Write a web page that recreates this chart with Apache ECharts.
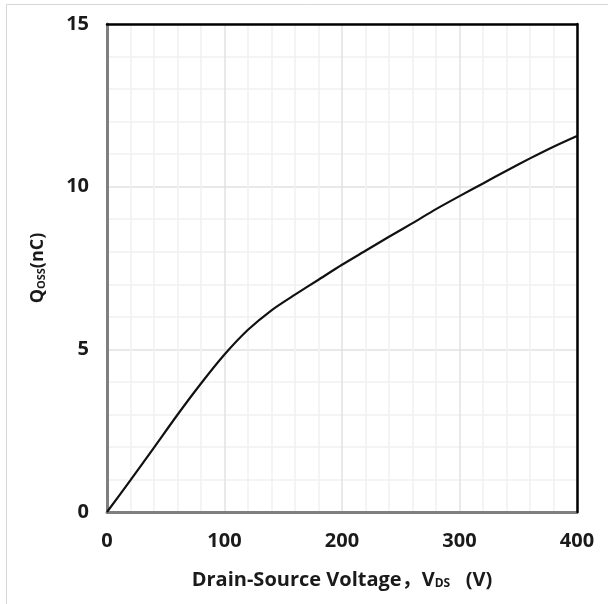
<!DOCTYPE html>
<html>
<head>
<meta charset="utf-8">
<script src="https://cdn.jsdelivr.net/npm/echarts@6/dist/echarts.min.js"></script>
<style>
  html, body { margin: 0; padding: 0; background: #fff; }
  #chart { width: 608px; height: 604px; }
</style>
</head>
<body>
<div id="chart"></div>
<script>
// Qoss vs Vds
const vds = [0, 20, 40, 60, 80, 100, 120, 140, 160, 180, 200, 220, 240, 260, 280, 300, 320, 340, 360, 380, 400];
const qoss = [0, 0.98, 1.98, 2.99, 3.95, 4.84, 5.6, 6.2, 6.68, 7.14, 7.6, 8.03, 8.46, 8.88, 9.31, 9.71, 10.1, 10.49, 10.87, 11.23, 11.56];

const xTicks = [0, 100, 200, 300, 400];
const yTicks = [0, 5, 10, 15];

const font = '"Open Sans", "Noto Sans CJK SC", sans-serif';
const labelColor = '#1a1a1a';

const chart = echarts.init(document.getElementById('chart'), null, { renderer: 'canvas' });

const frameAxis = {
  show: true,
  axisLine: { show: true, onZero: false, lineStyle: { color: '#000', width: 2.5 } },
  axisTick: { show: false },
  axisLabel: { show: false },
  splitLine: { show: false }
};

chart.setOption({
  animation: false,
  graphic: [
    { type: 'line', shape: { x1: 6.5, y1: 4.5, x2: 608, y2: 4.5 }, style: { stroke: '#d6d6d6', lineWidth: 1 } },
    { type: 'line', shape: { x1: 6.5, y1: 4.5, x2: 6.5, y2: 604 }, style: { stroke: '#d6d6d6', lineWidth: 1 } }
  ],
  grid: { left: 107, right: 31, top: 24, bottom: 92 },
  xAxis: [{
    type: 'value',
    min: xTicks[0], max: xTicks[xTicks.length - 1], interval: 100,
    name: '{t|Drain-Source Voltage，V}{s|DS}{t|   (V)}',
    nameLocation: 'middle', nameGap: 58,
    nameTextStyle: {
      rich: {
        t: { fontFamily: font, fontWeight: 'bold', fontSize: 20, color: labelColor },
        s: { fontFamily: font, fontWeight: 'bold', fontSize: 12, color: labelColor, padding: [8, 0, 0, 0] }
      }
    },
    axisLine: { show: true, onZero: false, lineStyle: { color: '#7f7f7f', width: 3 } },
    axisTick: { show: false },
    axisLabel: { fontFamily: font, fontWeight: 'bold', fontSize: 20, color: labelColor, margin: 19 },
    splitLine: { show: true, lineStyle: { color: '#e2e2e2', width: 1.5 } },
    minorTick: { show: false, splitNumber: 5 },
    minorSplitLine: { show: true, lineStyle: { color: '#f1f1f1', width: 1.5 } },
    z: 3
  }, Object.assign({
    type: 'value', position: 'top',
    min: xTicks[0], max: xTicks[xTicks.length - 1], interval: 100, z: 6
  }, frameAxis)],
  yAxis: [{
    type: 'value',
    min: yTicks[0], max: yTicks[yTicks.length - 1], interval: 5,
    name: '{t|Q}{s|OSS}{t|(nC)}',
    nameLocation: 'middle', nameGap: 60, nameRotate: 90,
    nameTextStyle: {
      rich: {
        t: { fontFamily: font, fontWeight: 'bold', fontSize: 18, color: labelColor },
        s: { fontFamily: font, fontWeight: 'bold', fontSize: 11, color: labelColor, padding: [8, 0, 0, 0] }
      }
    },
    axisLine: { show: true, onZero: false, lineStyle: { color: '#7f7f7f', width: 3 } },
    axisTick: { show: false },
    axisLabel: { fontFamily: font, fontWeight: 'bold', fontSize: 20, color: labelColor, margin: 18 },
    splitLine: { show: true, lineStyle: { color: '#e2e2e2', width: 1.5 } },
    minorTick: { show: false, splitNumber: 5 },
    minorSplitLine: { show: true, lineStyle: { color: '#f1f1f1', width: 1.5 } },
    z: 3
  }, Object.assign({
    type: 'value', position: 'right',
    min: yTicks[0], max: yTicks[yTicks.length - 1], interval: 5, z: 6
  }, frameAxis)],
  series: [{
    type: 'line',
    data: vds.map((v, i) => [v, qoss[i]]),
    smooth: 0.25,
    showSymbol: false,
    lineStyle: { color: '#111', width: 2.2 },
    z: 5
  }]
});
</script>
</body>
</html>
